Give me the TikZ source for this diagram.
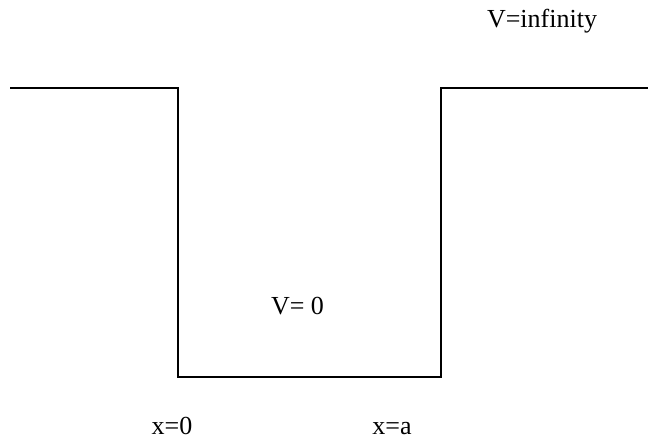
\documentclass[tikz,border=0pt]{standalone}
\usepackage{fontspec}
\setmainfont{Liberation Serif}
\begin{document}
\begin{tikzpicture}[x=1pt,y=1pt,
  wall/.style={line width=1.6pt, line join=miter},
  lbl/.style={inner sep=0pt, anchor=base, font=\fontsize{26}{30}\selectfont}]
\useasboundingbox (0,0) rectangle (648,441);
\coordinate (l0) at (10,353);
\coordinate (l1) at (178,353);
\coordinate (b0) at (178,64);
\coordinate (b1) at (441,64);
\coordinate (r1) at (441,353);
\coordinate (r0) at (648,353);
\draw[wall] (l0) -- (l1) -- (b0) -- (b1) -- (r1) -- (r0);
\node[lbl] (vinf) at (542,413) {V=infinity};
\node[lbl] (vzero) at (297.5,126) {V= 0};
\node[lbl] (xzero) at (172,6) {x=0};
\node[lbl] (xa) at (392,6) {x=a};
\end{tikzpicture}
\end{document}
